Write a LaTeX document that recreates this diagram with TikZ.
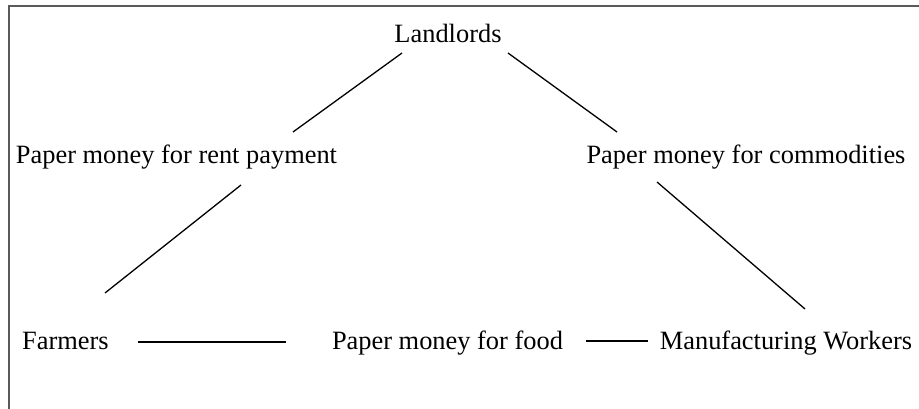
\documentclass[tikz,border=0pt]{standalone}
\usepackage{fontspec}
\setmainfont{Liberation Serif}
\usepackage{tikz}

\begin{document}
\begin{tikzpicture}[x=1pt,y=-1pt]

% Colori
\definecolor{frameGray}{HTML}{5A5A5A}

% Stili
\tikzset{
  etichetta/.style={anchor=base, inner sep=0pt, font=\fontsize{26.4}{30}\selectfont},
  linea/.style={black, line width=1.3pt}
}

\useasboundingbox (0,0) rectangle (919,409);

% Cornice
\draw[frameGray, line width=1.4pt] (9,409) -- (9,6) -- (919,6);

% Etichette
\node[etichetta] (land) at (448,43) {Landlords};
\node[etichetta] (rent) at (176.5,164) {Paper money for rent payment};
\node[etichetta] (comm) at (746,164) {Paper money for commodities};
\node[etichetta] (farm) at (65.5,349) {Farmers};
\node[etichetta] (food) at (447.5,349) {Paper money for food};
\node[etichetta] (work) at (786,349) {Manufacturing Workers};

% Linee
\draw[linea] ([shift={(-46,10)}]land.base) -- ([shift={(116.5,-32)}]rent.base);
\draw[linea] ([shift={(60,10)}]land.base) -- ([shift={(-129,-32)}]comm.base);
\draw[linea] ([shift={(64.5,21)}]rent.base) -- ([shift={(39.5,-56)}]farm.base);
\draw[linea] ([shift={(-89,18)}]comm.base) -- ([shift={(19,-40)}]work.base);
\draw[linea] ([shift={(72.5,-7)}]farm.base) -- ([shift={(-161.5,-7)}]food.base);
\draw[linea] ([shift={(138.5,-8)}]food.base) -- ([shift={(-138,-8)}]work.base);

\end{tikzpicture}
\end{document}
